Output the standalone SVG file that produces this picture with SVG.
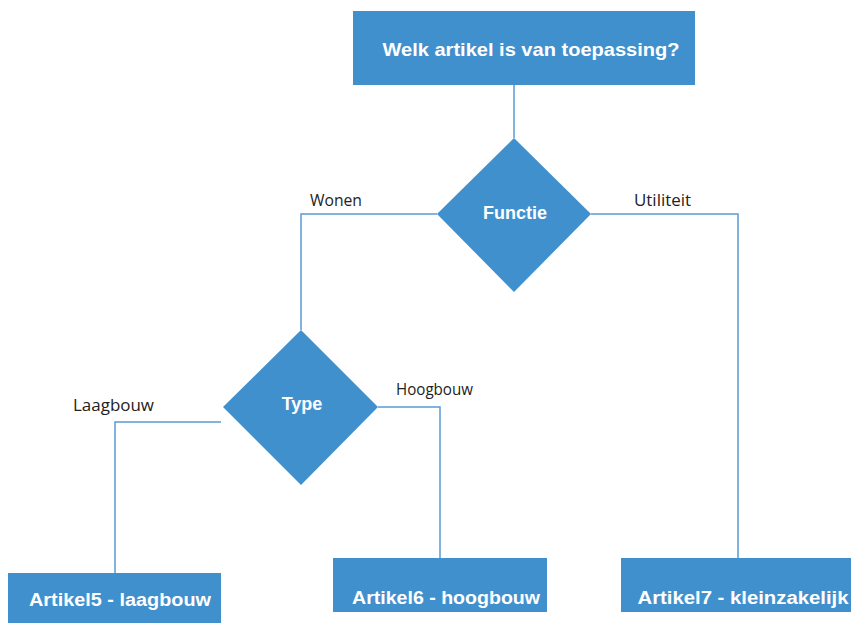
<svg xmlns="http://www.w3.org/2000/svg" width="851" height="623" viewBox="0 0 851 623">
<style>
.box{fill:#4190CE;}
.t{font-family:"Liberation Sans",Arial,sans-serif;font-weight:bold;fill:#fff;text-anchor:middle;dominant-baseline:central;}
.lbl{font-family:"Open Sans","Liberation Sans",sans-serif;font-size:16px;fill:#222;}
.c{fill:none;stroke:#5A9BD5;stroke-width:1.5;}
</style>
<rect width="851" height="623" fill="#fff"/>
<g id="connectors">
<path class="c" d="M514 85 V138"/>
<path class="c" d="M437 214 H301 V330"/>
<path class="c" d="M591 214 H738 V558"/>
<path class="c" d="M378 407 H440 V558"/>
<path class="c" d="M221 422 H115 V573"/>
<text class="lbl" x="310" y="206" textLength="52" lengthAdjust="spacingAndGlyphs">Wonen</text>
<text class="lbl" x="634" y="206" textLength="57" lengthAdjust="spacingAndGlyphs">Utiliteit</text>
<text class="lbl" x="396" y="395" textLength="77" lengthAdjust="spacingAndGlyphs">Hoogbouw</text>
<text class="lbl" x="73" y="411" textLength="81" lengthAdjust="spacingAndGlyphs">Laagbouw</text>
</g>
<g id="start">
<rect class="box" x="353" y="11" width="342" height="74"/>
<text class="t" x="531" y="49" font-size="19" textLength="297" lengthAdjust="spacingAndGlyphs">Welk artikel is van toepassing?</text>
</g>
<g id="functie">
<polygon class="box" points="514,138 591,214 514,292 437,214"/>
<text class="t" x="515" y="213" font-size="18">Functie</text>
</g>
<g id="type">
<polygon class="box" points="301,330 378,407 301,485 223,407"/>
<text class="t" x="302" y="404" font-size="18">Type</text>
</g>
<g id="art5">
<rect class="box" x="8" y="573" width="213" height="50"/>
<text class="t" x="120" y="600" font-size="18" textLength="182" lengthAdjust="spacingAndGlyphs">Artikel5 - laagbouw</text>
</g>
<g id="art6">
<rect class="box" x="333" y="558" width="214" height="54"/>
<text class="t" x="446" y="598" font-size="18" textLength="188" lengthAdjust="spacingAndGlyphs">Artikel6 - hoogbouw</text>
</g>
<g id="art7">
<rect class="box" x="621" y="558" width="230" height="54"/>
<text class="t" x="743" y="598" font-size="18" textLength="211" lengthAdjust="spacingAndGlyphs">Artikel7 - kleinzakelijk</text>
</g>
</svg>
